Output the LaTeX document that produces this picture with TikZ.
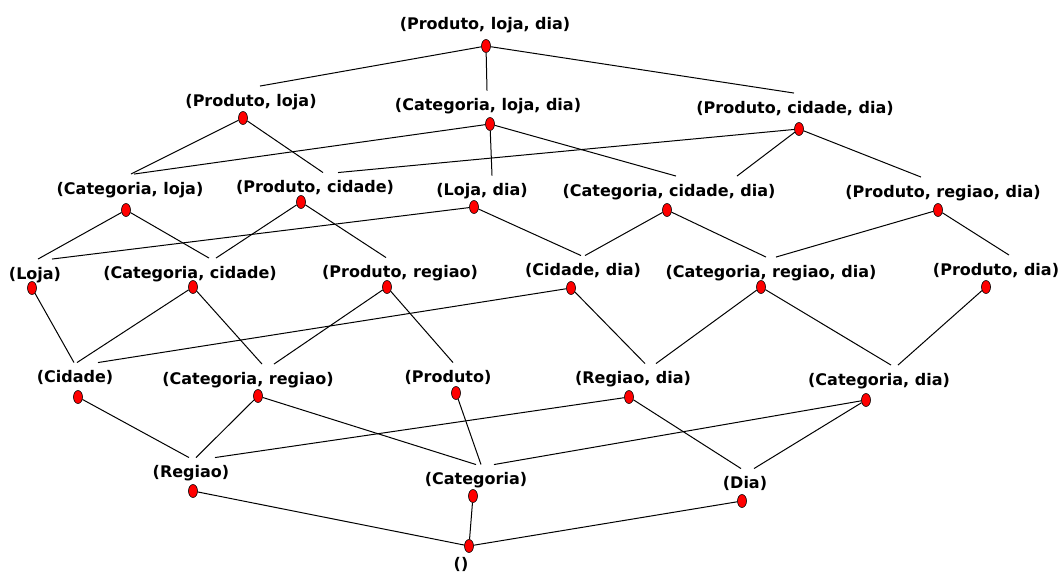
\documentclass[tikz,border=0pt]{standalone}
\usepackage{fontspec}
\setmainfont{DejaVu Sans}
\usetikzlibrary{shapes.geometric,positioning}

\tikzset{
  dot/.style={draw=black, fill=red, shape=ellipse, minimum width=9pt, minimum height=13pt, inner sep=0pt, line width=0.6pt},
  lbl/.style={font=\bfseries\fontsize{16}{18}\selectfont, inner xsep=1pt, inner ysep=8pt, text height=12.2pt, text depth=3.3pt},
  link/.style={line width=1pt}
}

\begin{document}
\begin{tikzpicture}[x=1pt, y=-1pt]
  \fill[white] (0,0) rectangle (1064,572);
  \useasboundingbox (0,0) rectangle (1064,572);

  % dots
  \node[dot] (pld) at (486,46) {};
  \node[dot] (pl) at (243,118) {};
  \node[dot] (cld) at (490,124) {};
  \node[dot] (pcd) at (799,129) {};
  \node[dot] (cl) at (126,210) {};
  \node[dot] (pc) at (301,202) {};
  \node[dot] (ld) at (474,207) {};
  \node[dot] (ccd) at (667,210) {};
  \node[dot] (prd) at (938,210) {};
  \node[dot] (lo) at (32,288) {};
  \node[dot] (cc) at (193,287) {};
  \node[dot] (pr) at (387,287) {};
  \node[dot] (cd) at (571,288) {};
  \node[dot] (crd) at (761,287) {};
  \node[dot] (pd) at (986,287) {};
  \node[dot] (ci) at (78,397) {};
  \node[dot] (cr) at (258,396) {};
  \node[dot] (pro) at (456,393) {};
  \node[dot] (rd) at (629,397) {};
  \node[dot] (cdi) at (866,400) {};
  \node[dot] (re) at (193,491) {};
  \node[dot] (ca) at (473,496) {};
  \node[dot] (di) at (742,501) {};
  \node[dot] (em) at (469,546) {};

  % labels
  \node[lbl] (pld-t) at (485,25.5) {(Produto, loja, dia)};
  \node[lbl] (pl-t) at (251,102) {(Produto, loja)};
  \node[lbl] (cld-t) at (488,106.5) {(Categoria, loja, dia)};
  \node[lbl] (pcd-t) at (795,109) {(Produto, cidade, dia)};
  \node[lbl] (cl-t) at (130,190) {(Categoria, loja)};
  \node[lbl] (pc-t) at (315,188.5) {(Produto, cidade)};
  \node[lbl] (ld-t) at (482,191.5) {(Loja, dia)};
  \node[lbl] (ccd-t) at (669,192) {(Categoria, cidade, dia)};
  \node[lbl] (prd-t) at (943,193) {(Produto, regiao, dia)};
  \node[lbl] (lo-t) at (35,275) {(Loja)};
  \node[lbl] (cc-t) at (190,274) {(Categoria, cidade)};
  \node[lbl] (pr-t) at (400,273.5) {(Produto, regiao)};
  \node[lbl] (cd-t) at (583,271.5) {(Cidade, dia)};
  \node[lbl] (crd-t) at (771,273) {(Categoria, regiao, dia)};
  \node[lbl] (pd-t) at (996,271) {(Produto, dia)};
  \node[lbl] (ci-t) at (75,378.5) {(Cidade)};
  \node[lbl] (cr-t) at (248,380) {(Categoria, regiao)};
  \node[lbl] (pro-t) at (448,378.5) {(Produto)};
  \node[lbl] (rd-t) at (633,379.5) {(Regiao, dia)};
  \node[lbl] (cdi-t) at (879,381) {(Categoria, dia)};
  \node[lbl] (re-t) at (191,473.5) {(Regiao)};
  \node[lbl] (ca-t) at (476,480.5) {(Categoria)};
  \node[lbl] (di-t) at (745,484.5) {(Dia)};
  \node[lbl] (em-t) at (461,565) {()};

  % links
  \draw[link] (pld) -- ([xshift=9pt]pl-t.north);
  \draw[link] (pld) -- ([xshift=-1pt]cld-t.north);
  \draw[link] (pld) -- ([xshift=-1pt]pcd-t.north);
  \draw[link] (pl) -- ([xshift=1pt]cl-t.north);
  \draw[link] (pl) -- ([xshift=8pt]pc-t.north);
  \draw[link] (cld) -- ([xshift=4pt]cl-t.north);
  \draw[link] (cld) -- ([xshift=10pt]ld-t.north);
  \draw[link] (cld) -- ([xshift=7pt]ccd-t.north);
  \draw[link] (pcd) -- ([xshift=23pt]pc-t.north);
  \draw[link] (pcd) -- ([xshift=68pt]ccd-t.north);
  \draw[link] (pcd) -- ([xshift=-22pt]prd-t.north);
  \draw[link] (cl) -- ([xshift=3pt]lo-t.north);
  \draw[link] (cl) -- ([xshift=19pt]cc-t.north);
  \draw[link] (pc) -- ([xshift=26pt]cc-t.north);
  \draw[link] (pc) -- ([xshift=-14pt]pr-t.north);
  \draw[link] (ld) -- ([xshift=17pt]lo-t.north);
  \draw[link] (ld) -- ([xshift=-2pt]cd-t.north);
  \draw[link] (ccd) -- ([xshift=2pt]cd-t.north);
  \draw[link] (ccd) -- ([xshift=-5pt]crd-t.north);
  \draw[link] (prd) -- ([xshift=5pt]crd-t.north);
  \draw[link] (prd) -- ([xshift=13pt]pd-t.north);
  \draw[link] (lo) -- ([xshift=-1pt]ci-t.north);
  \draw[link] (cc) -- ([xshift=2pt]ci-t.north);
  \draw[link] (cc) -- ([xshift=14pt]cr-t.north);
  \draw[link] (pr) -- ([xshift=26pt]cr-t.north);
  \draw[link] (pr) -- ([xshift=5pt]pro-t.north);
  \draw[link] (cd) -- ([xshift=23pt]ci-t.north);
  \draw[link] (cd) -- ([xshift=12pt]rd-t.north);
  \draw[link] (crd) -- ([xshift=23pt]rd-t.north);
  \draw[link] (crd) -- ([xshift=12pt]cdi-t.north);
  \draw[link] (pd) -- ([xshift=19pt]cdi-t.north);
  \draw[link] (ci) -- ([xshift=-2pt]re-t.north);
  \draw[link] (cr) -- ([xshift=5pt]re-t.north);
  \draw[link] (cr) -- (ca-t.north);
  \draw[link] (pro) -- ([xshift=5pt]ca-t.north);
  \draw[link] (rd) -- ([xshift=24pt]re-t.north);
  \draw[link] (rd) -- ([xshift=-4pt]di-t.north);
  \draw[link] (cdi) -- ([xshift=18pt]ca-t.north);
  \draw[link] (cdi) -- ([xshift=9pt]di-t.north);
  \draw[link] (re) -- (em);
  \draw[link] (ca) -- (em);
  \draw[link] (di) -- (em);
\end{tikzpicture}
\end{document}
